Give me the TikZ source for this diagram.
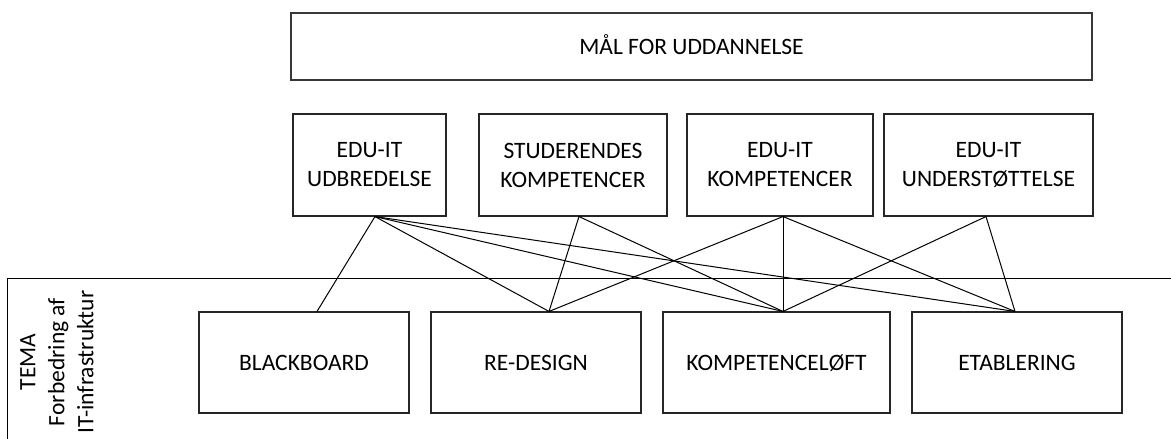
\documentclass[tikz,border=0pt]{standalone}
\usepackage{fontspec}
\setmainfont{Carlito}
\begin{document}
\begin{tikzpicture}[x=1pt,y=-1pt,
  box/.style={draw=black!85, line width=1.1pt, inner sep=0pt, align=center,
    font=\fontsize{23.5}{29}\selectfont},
  goalbox/.style={box, draw=black!78, line width=1.8pt},
  upbox/.style={box, minimum height=102pt},
  lowbox/.style={box, minimum height=101pt, text height=15pt, text depth=0pt},
  link/.style={draw=black, line width=1pt},
  lbl/.style={inner sep=0pt, align=center, font=\fontsize{23.5}{29}\selectfont}]
\useasboundingbox (0,0) rectangle (1171,439);
% goal box
\node[goalbox, minimum width=801pt, minimum height=67pt, text height=15pt, text depth=0pt] (goal) at (691.5,46.5) {MÅL FOR UDDANNELSE};
% upper row
\node[upbox, minimum width=153pt] (u1) at (369.5,165) {EDU-IT\\UDBREDELSE};
\node[upbox, minimum width=188pt] (u2) at (573,165) {STUDERENDES\\KOMPETENCER};
\node[upbox, minimum width=186pt] (u3) at (780,165) {EDU-IT\\KOMPETENCER};
\node[upbox, minimum width=209pt] (u4) at (988.5,165) {EDU-IT\\UNDERSTØTTELSE};
% theme frame
\draw[line width=1pt] (7,445) -- (7,278) -- (1175,278);
\node[lbl, rotate=90] (tema) at (57,362) {TEMA\\Forbedring af\\IT-infrastruktur};
% lower row
\node[lowbox, minimum width=210pt] (l1) at (304,362.5) {BLACKBOARD};
\node[lowbox, minimum width=210pt] (l2) at (536,362.5) {RE-DESIGN};
\node[lowbox, minimum width=227pt] (l3) at (776.5,362.5) {KOMPETENCELØFT};
\node[lowbox, minimum width=210pt] (l4) at (1017,362.5) {ETABLERING};
% connection points
\coordinate (a1) at ([xshift=5.5pt]u1.south);
\coordinate (a2) at ([xshift=6pt]u2.south);
\coordinate (a3) at ([xshift=3pt]u3.south);
\coordinate (a4) at ([xshift=-2.5pt]u4.south);
\coordinate (b1) at ([xshift=13pt]l1.north);
\coordinate (b2) at ([xshift=13pt]l2.north);
\coordinate (b3) at ([xshift=6.5pt]l3.north);
\coordinate (b4) at ([xshift=-2pt]l4.north);
\draw[link] (a1) -- (b1);
\draw[link] (a1) -- (b2);
\draw[link] (a1) -- (b3);
\draw[link] (a1) -- (b4);
\draw[link] (a2) -- (b2);
\draw[link] (a2) -- (b3);
\draw[link] (a3) -- (b2);
\draw[link] (a3) -- (b3);
\draw[link] (a3) -- (b4);
\draw[link] (a4) -- (b3);
\draw[link] (a4) -- (b4);
\end{tikzpicture}
\end{document}
